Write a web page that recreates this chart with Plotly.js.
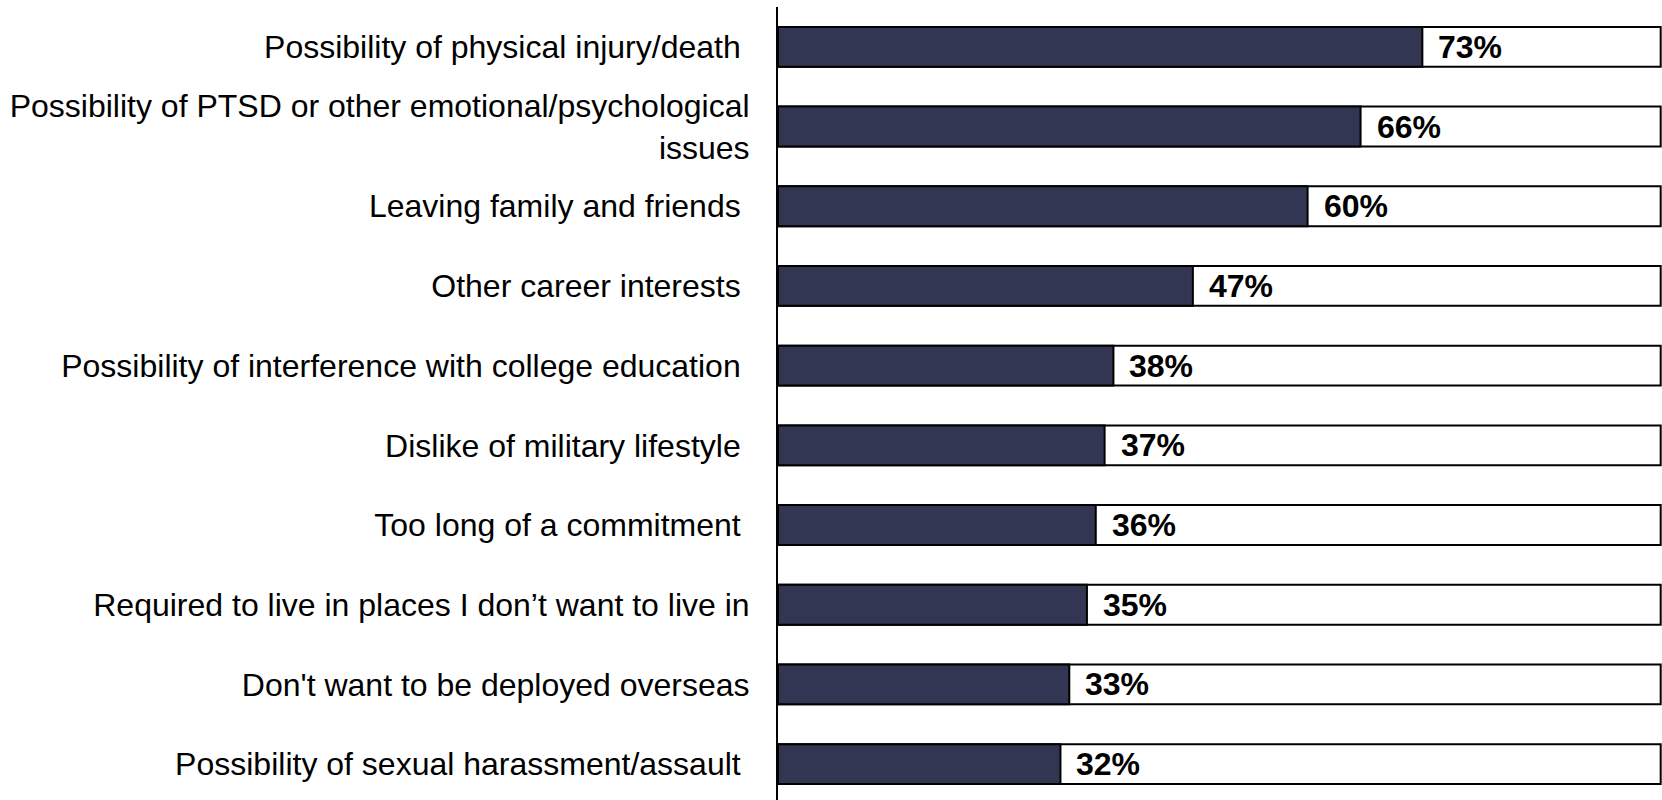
<!DOCTYPE html>
<html>
<head>
<meta charset="utf-8">
<script src="https://cdn.plot.ly/plotly-3.0.1.min.js"></script>
<style>html,body{margin:0;padding:0;background:#fff;}#chart{width:1662px;height:800px;}</style>
</head>
<body>
<div id="chart"></div>
<script>
const categories = [
  "Possibility of physical injury/death\u00a0",
  "Possibility of PTSD or other emotional/psychological<br>issues",
  "Leaving family and friends\u00a0",
  "Other career interests\u00a0",
  "Possibility of interference with college education\u00a0",
  "Dislike of military lifestyle\u00a0",
  "Too long of a commitment\u00a0",
  "Required to live in places I don\u2019t want to live in",
  "Don't want to be deployed overseas",
  "Possibility of sexual harassment/assault\u00a0"
];
const values = [73, 66, 60, 47, 38, 37, 36, 35, 33, 32];
const totals = [100, 100, 100, 100, 100, 100, 100, 100, 100, 100];
const valueLabels = ["73%", "66%", "60%", "47%", "38%", "37%", "36%", "35%", "33%", "32%"];

const traces = [
  {
    type: 'bar', orientation: 'h', y: categories, x: totals, width: 0.5,
    marker: {color: '#ffffff', line: {color: '#000000', width: 2}},
    hoverinfo: 'skip', showlegend: false
  },
  {
    type: 'bar', orientation: 'h', y: categories, x: values, width: 0.5,
    marker: {color: '#333652', line: {color: '#000000', width: 2}},
    hoverinfo: 'skip', showlegend: false
  }
];

const annotations = values.map((v, i) => ({
  x: v, y: categories[i], xref: 'x', yref: 'y',
  text: '<b>' + valueLabels[i] + '</b>', showarrow: false,
  xanchor: 'left', yanchor: 'middle', xshift: 14,
  font: {family: 'Liberation Sans, Arial, sans-serif', size: 32, color: '#000000'}
}));

const layout = {
  width: 1662, height: 800,
  margin: {l: 778, r: 0, t: 7, b: 0, pad: 0},
  barmode: 'overlay',
  paper_bgcolor: '#ffffff', plot_bgcolor: '#ffffff',
  font: {family: 'Liberation Sans, Arial, sans-serif', size: 32, color: '#000000'},
  xaxis: {range: [0, 100.15], showgrid: false, zeroline: false, showline: false,
          showticklabels: false, ticks: '', fixedrange: true},
  yaxis: {type: 'category', range: [9.45, -0.5], showgrid: false, zeroline: false,
          showline: true, linecolor: '#000000', linewidth: 2, ticks: '',
          ticklabelstandoff: 20,
          tickfont: {family: 'Liberation Sans, Arial, sans-serif', size: 32, color: '#000000'},
          fixedrange: true},
  annotations: annotations
};

Plotly.newPlot('chart', traces, layout, {staticPlot: true, displayModeBar: false});
</script>
</body>
</html>
